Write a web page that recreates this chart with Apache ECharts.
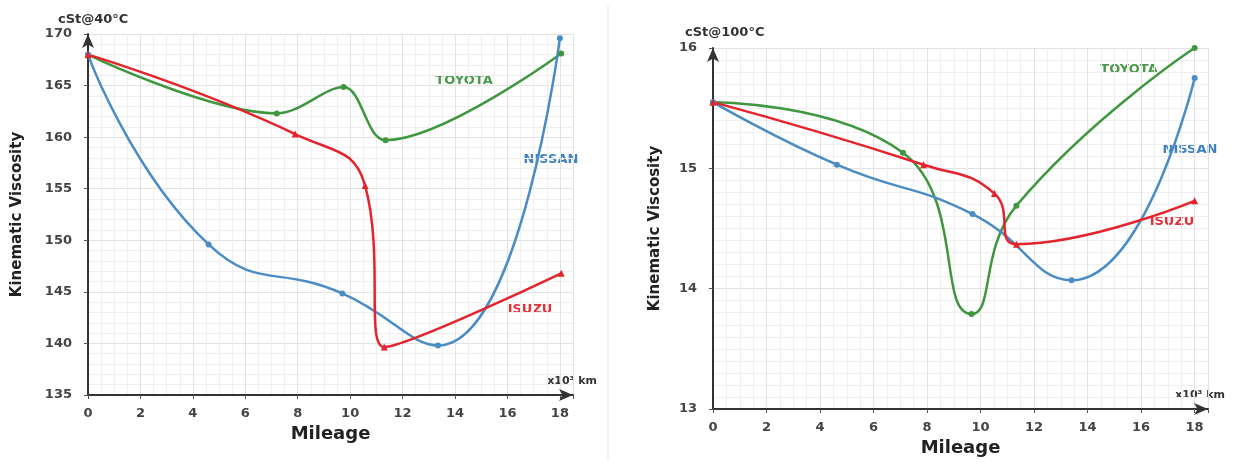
<!DOCTYPE html>
<html>
<head>
<meta charset="utf-8">
<script src="https://cdn.jsdelivr.net/npm/echarts@6/dist/echarts.min.js"></script>
<style>
  html, body { margin: 0; padding: 0; background: #fff; }
  #chart { width: 1243px; height: 471px; }
</style>
</head>
<body>
<div id="chart"></div>
<script>
// mileage ticks (x10^3 km)
const mileageTicks = [0, 2, 4, 6, 8, 10, 12, 14, 16, 18]

// cSt @ 40°C
const toyota40X = [0, 7.2, 9.75, 11.35, 18.05]
const toyota40Y = [168, 162.3, 164.85, 159.7, 168.1]
const nissan40X = [0, 4.6, 9.7, 13.35, 18]
const nissan40Y = [168, 149.6, 144.85, 139.8, 169.6]
const isuzu40X = [0, 7.9, 10.57, 11.3, 18.05]
const isuzu40Y = [168, 160.3, 155.3, 139.65, 146.8]

// cSt @ 100°C
const toyota100X = [0, 7.1, 9.66, 11.34, 18]
const toyota100Y = [15.55, 15.13, 13.79, 14.69, 16.0]
const nissan100X = [0, 4.63, 9.7, 13.4, 18]
const nissan100Y = [15.55, 15.03, 14.62, 14.07, 15.75]
const isuzu100X = [0, 7.87, 10.52, 11.34, 18]
const isuzu100Y = [15.55, 15.03, 14.79, 14.37, 14.73]

const GREEN = '#3f973f'
const BLUE = '#4a8cc6'
const RED = '#e5232c'
const FONT = 'DejaVu Sans'

function pairs (xs, ys) {
  return xs.map((x, i) => [x, ys[i]])
}

function xAxisOpt (gridIndex, gap) {
  return {
    type: 'value',
    gridIndex: gridIndex,
    min: 0,
    max: 18.5,
    interval: 2,
    name: 'Mileage',
    nameLocation: 'middle',
    nameGap: gap,
    nameTextStyle: { fontFamily: FONT, fontWeight: 'bold', fontSize: 18, color: '#222' },
    axisLine: { show: true, symbol: ['none', 'arrow'], symbolSize: [9, 14], lineStyle: { color: '#333', width: 2 } },
    axisTick: { show: true, length: 4, lineStyle: { color: '#555' } },
    axisLabel: {
      margin: 12,
      fontFamily: FONT,
      fontWeight: 'bold',
      fontSize: 13,
      color: '#444',
      formatter: v => (mileageTicks.indexOf(v) >= 0 ? String(v) : '')
    },
    splitLine: { show: true, lineStyle: { color: '#e2e2e2', width: 1 } },
    minorTick: { show: false, splitNumber: 4 },
    minorSplitLine: { show: true, lineStyle: { color: '#efefef', width: 1 } }
  }
}

function yAxisOpt (gridIndex, min, max, interval, minorSplit, gap) {
  return {
    type: 'value',
    gridIndex: gridIndex,
    min: min,
    max: max,
    interval: interval,
    name: 'Kinematic Viscosity',
    nameLocation: 'middle',
    nameGap: gap,
    nameTextStyle: { fontFamily: FONT, fontWeight: 'bold', fontSize: 15, color: '#222' },
    axisLine: { show: true, symbol: ['none', 'arrow'], symbolSize: [9, 14], lineStyle: { color: '#333', width: 2 } },
    axisTick: { show: true, length: 4, lineStyle: { color: '#555' } },
    axisLabel: { margin: 16, fontFamily: FONT, fontWeight: 'bold', fontSize: 13, color: '#444' },
    splitLine: { show: true, lineStyle: { color: '#e2e2e2', width: 1 } },
    minorTick: { show: false, splitNumber: minorSplit },
    minorSplitLine: { show: true, lineStyle: { color: '#efefef', width: 1 } }
  }
}

function lineSeries (name, idx, data, color, symbol, smooth) {
  return {
    name: name,
    type: 'line',
    xAxisIndex: idx,
    yAxisIndex: idx,
    data: data,
    smooth: smooth,
    color: color,
    symbol: symbol,
    symbolSize: symbol === 'triangle' ? 7 : 6,
    lineStyle: { color: color, width: 2.5 },
    itemStyle: { color: color },
    z: 3
  }
}

function label (text, x, y, color, size) {
  return {
    type: 'text',
    x: x,
    y: y,
    style: {
      text: text,
      fill: color,
      font: 'bold ' + (size || 13) + 'px "DejaVu Sans"',
      align: 'center',
      verticalAlign: 'middle'
    }
  }
}

let myChart = echarts.init(document.getElementById('chart'))
myChart.setOption({
  animation: false,
  backgroundColor: '#fff',
  grid: [
    { left: 88, top: 34, width: 485, height: 361 },
    { left: 713, top: 48, width: 495, height: 361 }
  ],
  xAxis: [xAxisOpt(0, 28), xAxisOpt(1, 25)],
  yAxis: [yAxisOpt(0, 135, 170, 5, 5, 63), yAxisOpt(1, 13, 16, 1, 10, 50)],
  series: [
    lineSeries('TOYOTA', 0, pairs(toyota40X, toyota40Y), GREEN, 'circle', 0.35),
    lineSeries('NISSAN', 0, pairs(nissan40X, nissan40Y), BLUE, 'circle', 0.5),
    lineSeries('ISUZU', 0, pairs(isuzu40X, isuzu40Y), RED, 'triangle', 0.5),
    lineSeries('TOYOTA', 1, pairs(toyota100X, toyota100Y), GREEN, 'circle', 0.5),
    lineSeries('NISSAN', 1, pairs(nissan100X, nissan100Y), BLUE, 'circle', 0.5),
    lineSeries('ISUZU', 1, pairs(isuzu100X, isuzu100Y), RED, 'triangle', 0.5)
  ],
  graphic: [
    // separator between the two panels
    { type: 'line', shape: { x1: 608, y1: 5, x2: 608, y2: 460 }, style: { stroke: '#e6e6e6', lineWidth: 1 } },
    { type: 'text', x: 58, y: 20, style: { text: 'cSt@40°C', fill: '#333', font: 'bold 13px "DejaVu Sans"', align: 'left', verticalAlign: 'middle' } },
    { type: 'text', x: 685, y: 33, style: { text: 'cSt@100°C', fill: '#333', font: 'bold 13px "DejaVu Sans"', align: 'left', verticalAlign: 'middle' } },
    { type: 'text', x: 597, y: 381, style: { text: 'x10³ km', fill: '#333', font: 'bold 11px "DejaVu Sans"', align: 'right', verticalAlign: 'middle' } },
    { type: 'text', x: 1225, y: 395, style: { text: 'x10³ km', fill: '#333', font: 'bold 11px "DejaVu Sans"', align: 'right', verticalAlign: 'middle' } },
    label('TOYOTA', 464, 81, '#4c9a4c'),
    label('NISSAN', 551, 160, '#3f80c0'),
    label('ISUZU', 530, 310, '#e0303a'),
    label('TOYOTA', 1129, 70, '#4c9a4c'),
    label('NISSAN', 1190, 150, '#3f80c0'),
    label('ISUZU', 1172, 222, '#e0303a')
  ]
})
</script>
</body>
</html>
